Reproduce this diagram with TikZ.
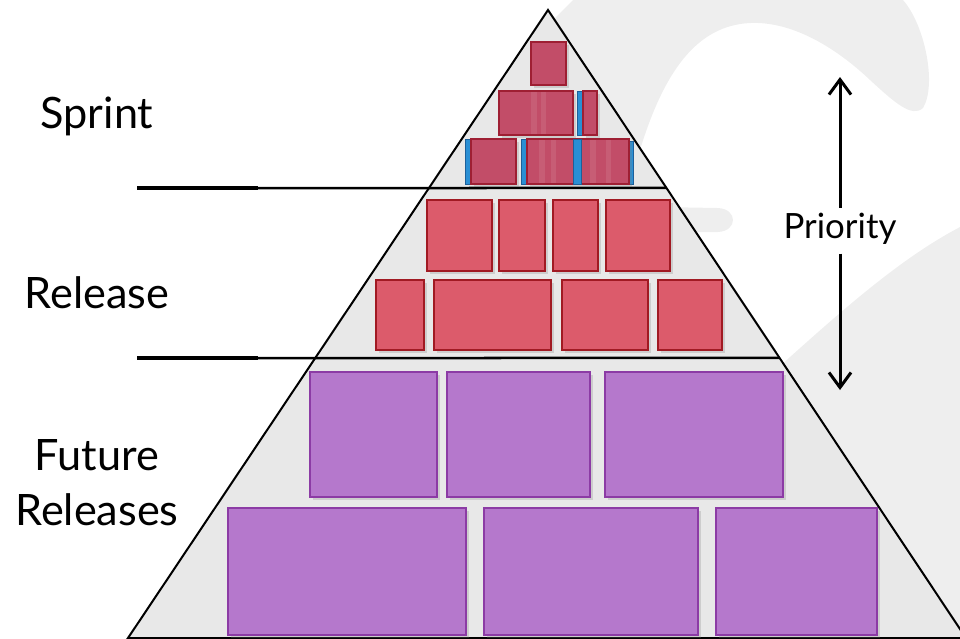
\documentclass[tikz,border=0pt]{standalone}
\usepackage{fontspec}
\setmainfont{Lato}
\usepackage{xcolor}
\usetikzlibrary{arrows.meta, positioning, fit, calc, shadows}

\definecolor{sprintred}{HTML}{C24D68}
\definecolor{sprintedge}{HTML}{9E1F33}
\definecolor{relred}{HTML}{DC5B6B}
\definecolor{reledge}{HTML}{A11A23}
\definecolor{futpurple}{HTML}{B578CC}
\definecolor{futedge}{HTML}{8C3BA5}
\definecolor{stripeblue}{HTML}{2A8FD4}
\definecolor{stripeedge}{HTML}{1D5F99}
\definecolor{pyramidgray}{HTML}{E8E8E8}
\definecolor{swooshgray}{HTML}{EEEEEE}

\begin{document}
\begin{tikzpicture}[
    x=0.01cm, y=-0.01cm,
    brick/.style={draw, line width=0.02cm, inner sep=0pt,
        drop shadow={shadow xshift=0.03cm, shadow yshift=-0.03cm, opacity=0.25}},
    sprintbox/.style={brick, fill=sprintred, draw=sprintedge},
    relbox/.style={brick, fill=relred, draw=reledge},
    futbox/.style={brick, fill=futpurple, draw=futedge},
    stripe/.style={fill=stripeblue, draw=stripeedge, line width=0.005cm},
    band/.style={fill=white, opacity=0.09},
    swoosh/.style={fill=swooshgray},
    pyramid/.style={fill=pyramidgray, draw=black, line width=0.02cm, line join=miter},
    divider/.style={line width=0.025cm},
    sectlabel/.style={font=\fontsize{12.3}{15.6}\selectfont, align=center, inner sep=0pt},
    priotext/.style={font=\fontsize{9.9}{12}\selectfont, inner sep=0.04cm},
    prioarrow/.style={line width=0.03cm, -{Straight Barb[length=0.15cm, width=0.22cm]}}
]

\useasboundingbox (0,0) rectangle (960,638);
\clip (0,0) rectangle (960,638);

% background swoosh
\fill[swoosh] (573,0) -- (903,0) .. controls (925,25) and (937,85) .. (923,108)
    .. controls (912,118) and (895,103) .. (870,80)
    .. controls (830,42) and (780,15) .. (735,25)
    .. controls (690,35) and (660,80) .. (637,160)
    -- (560,200) -- (520,53) -- cycle;
\fill[swoosh] (770,375) .. controls (840,312) and (900,258) .. (962,226)
    -- (962,640) -- (700,640) -- cycle;
\fill[swoosh] (660,207) -- (718,208) .. controls (738,209) and (738,231) .. (718,232)
    -- (660,232) -- cycle;

% pyramid
\coordinate (apex) at (548,10);
\coordinate (bl) at (128,638);
\coordinate (br) at (966,638);
\filldraw[pyramid] (apex) -- (bl) -- (br) -- cycle;

\coordinate (sl) at (137,188);
\coordinate (sr) at ($(apex)!0.2834!(br)$);
\coordinate (rl) at (137,358);
\coordinate (rr) at ($(apex)!0.5541!(br)$);
\draw[divider] (sl) -- (sr);
\draw[divider] (rl) -- (rr);
\draw[line width=0.04cm] (sl) -- ++(121,0);
\draw[line width=0.04cm] (rl) -- ++(121,0);

% sprint bricks
\fill[stripe] (577,91) rectangle (583,135);
\fill[stripe] (465,139) rectangle (471,184);
\fill[stripe] (521,139) rectangle (527,184);
\fill[stripe] (627,141) rectangle (633,184);
\foreach \n/\xa/\ya/\xb/\yb in {1/531/42/566/85, 2/499/91/573/135, 3/583/91/597/135,
        4/471/139/516/184, 5/527/139/629/184}
    \node[sprintbox, fit={(\xa,\ya) (\xb,\yb)}] (s\n) {};
\fill[stripe] (573,139) rectangle (581,184);
\fill[band] (531,92) rectangle (537,134);
\fill[band] (541,92) rectangle (546,134);
\fill[band] (539,140) rectangle (545,183);
\fill[band] (551,140) rectangle (556,183);
\fill[band] (590,140) rectangle (596,183);
\fill[band] (606,140) rectangle (611,183);

% release bricks
\foreach \n/\xa/\ya/\xb/\yb in {1/427/200/492/271, 2/499/200/545/271, 3/553/200/598/271,
        4/606/200/670/271, 5/376/280/424/350, 6/434/280/551/350, 7/562/280/648/350,
        8/658/280/722/350}
    \node[relbox, fit={(\xa,\ya) (\xb,\yb)}] (r\n) {};

% future release bricks
\foreach \n/\xa/\ya/\xb/\yb in {1/310/372/437/497, 2/447/372/590/497, 3/605/372/783/497,
        4/228/508/466/635, 5/484/508/698/635, 6/716/508/877/635}
    \node[futbox, fit={(\xa,\ya) (\xb,\yb)}] (f\n) {};

% labels
\node[sectlabel, anchor=base] (sprint) at (97,128) {Sprint};
\node[sectlabel, anchor=base] (release) at (97,308) {Release};
\node[sectlabel, anchor=base] (future) at (97,525) {Future\\Releases};

% priority
\node[priotext, anchor=base] (prio) at (840,238) {Priority};
\coordinate (ptop) at (840,77);
\coordinate (pbot) at (840,390);
\draw[prioarrow] (prio.north) -- (ptop);
\draw[prioarrow, shorten <=0.05cm] (prio.south) -- (pbot);

\end{tikzpicture}
\end{document}
